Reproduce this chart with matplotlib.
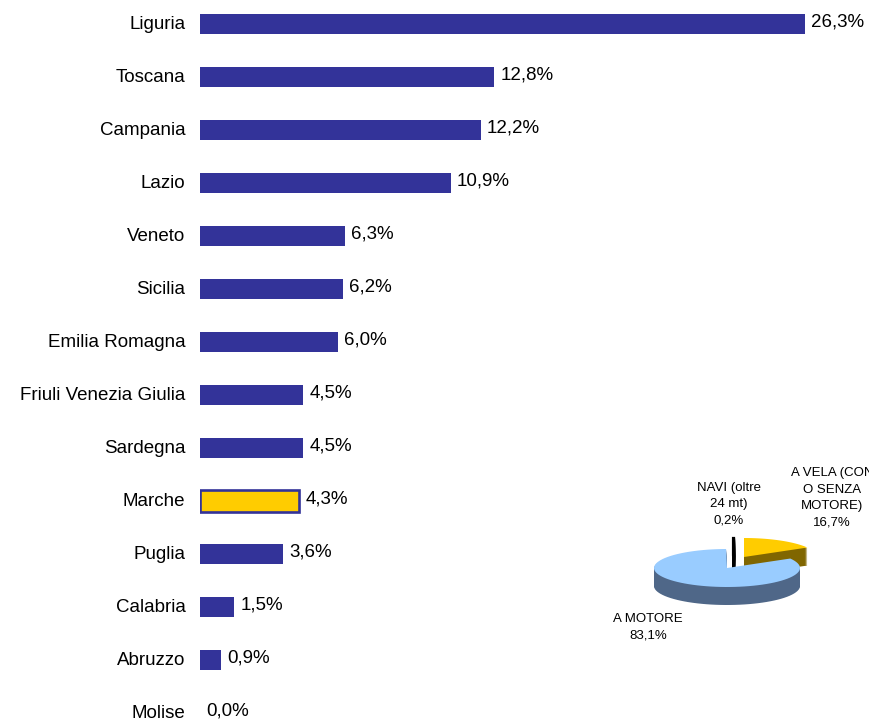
import numpy as np
import matplotlib

matplotlib.use("Agg")
import matplotlib.pyplot as plt
from matplotlib.patches import Polygon

plt.rcParams["font.family"] = ["Liberation Sans", "DejaVu Sans"]

regions = [
    "Liguria", "Toscana", "Campania", "Lazio", "Veneto", "Sicilia",
    "Emilia Romagna", "Friuli Venezia Giulia", "Sardegna", "Marche",
    "Puglia", "Calabria", "Abruzzo", "Molise",
]
shares = [26.3, 12.8, 12.2, 10.9, 6.3, 6.2, 6.0, 4.5, 4.5, 4.3, 3.6, 1.5, 0.9, 0.0]
highlight = "Marche"

pie_labels = ["A VELA (CON\nO SENZA\nMOTORE)", "A MOTORE", "NAVI (oltre\n24 mt)"]
pie_values = [16.7, 83.1, 0.2]

BAR_COLOR = "#333399"
HIGHLIGHT_COLOR = "#ffcc00"


def fmt(v):
    return f"{v:.1f}".replace(".", ",") + "%"


def wedge_points(cx, cy, rx, ry, t1, t2):
    t = np.radians(np.linspace(t1, t2, 80))
    xs = np.concatenate([[cx], cx + rx * np.cos(t)])
    ys = np.concatenate([[cy], cy - ry * np.sin(t)])
    return np.column_stack([xs, ys])


fig = plt.figure(figsize=(8.7, 7.22), dpi=100)

# bar chart
ax = fig.add_axes([200 / 870, 0, 28 * 23.0 / 870, 1])
y = np.arange(len(regions))
colors = [HIGHLIGHT_COLOR if r == highlight else BAR_COLOR for r in regions]
bars = ax.barh(y, shares, height=0.38, color=colors)
for bar, r in zip(bars, regions):
    if r == highlight:
        bar.set_edgecolor(BAR_COLOR)
        bar.set_linewidth(1.9)
        bar.set_height(0.40)
        bar.set_y(bar.get_y() - 0.01)
for yi, v in zip(y, shares):
    ax.annotate(fmt(v), (v, yi - 0.03), xytext=(4.5, 0), textcoords="offset points",
                ha="left", va="center", fontsize=13.5, color="#000000")
ax.set_xlim(0, 28)
ax.set_ylim(13.17, -0.453)
ax.set_yticks(y - 0.03)
ax.set_yticklabels(regions, fontsize=13.5)
ax.tick_params(axis="y", length=0, pad=10.5)
ax.set_xticks([])
for s in ax.spines.values():
    s.set_visible(False)
ax.patch.set_visible(False)

# 3D-looking pie in pixel coordinates
pax = fig.add_axes([0, 0, 1, 1])
pax.set_xlim(0, 870)
pax.set_ylim(722, 0)
pax.axis("off")

cx, cy, rx, ry, depth = 734, 568, 73, 19, 18
offsets = [(10, -11), (-7, 0), (0, -11)]
tops = [HIGHLIGHT_COLOR, "#99ccff", "#000000"]
sides = ["#806600", "#4f6788", "#000000"]

total = sum(pie_values)
angle = 90.0
wedges = []
for v, off, top, side in zip(pie_values, offsets, tops, sides):
    t1 = angle
    t2 = angle - v / total * 360
    angle = t2
    wedges.append((t1, t2, off, top, side))

# draw back slices first (navi, vela), front slice last (motore)
for idx in [2, 0, 1]:
    t1, t2, (dx, dy), top, side = wedges[idx]
    pts = wedge_points(cx + dx, cy + dy, rx, ry, t1, t2)
    lw = 1.6 if idx == 2 else 0
    for d in range(depth, 0, -1):
        pax.add_patch(Polygon(pts + [0, d], closed=True, facecolor=side,
                              edgecolor=side, linewidth=lw))
    pax.add_patch(Polygon(pts, closed=True, facecolor=top,
                          edgecolor=top, linewidth=lw))

pax.text(832, 498, pie_labels[0] + "\n" + fmt(pie_values[0]), ha="center",
         va="center", fontsize=9.5, linespacing=1.5)
pax.text(648, 627, pie_labels[1] + "\n" + fmt(pie_values[1]), ha="center",
         va="center", fontsize=9.5, linespacing=1.5)
pax.text(729, 504, pie_labels[2] + "\n" + fmt(pie_values[2]), ha="center",
         va="center", fontsize=9.5, linespacing=1.5)

fig.savefig("out.png", dpi=100)
